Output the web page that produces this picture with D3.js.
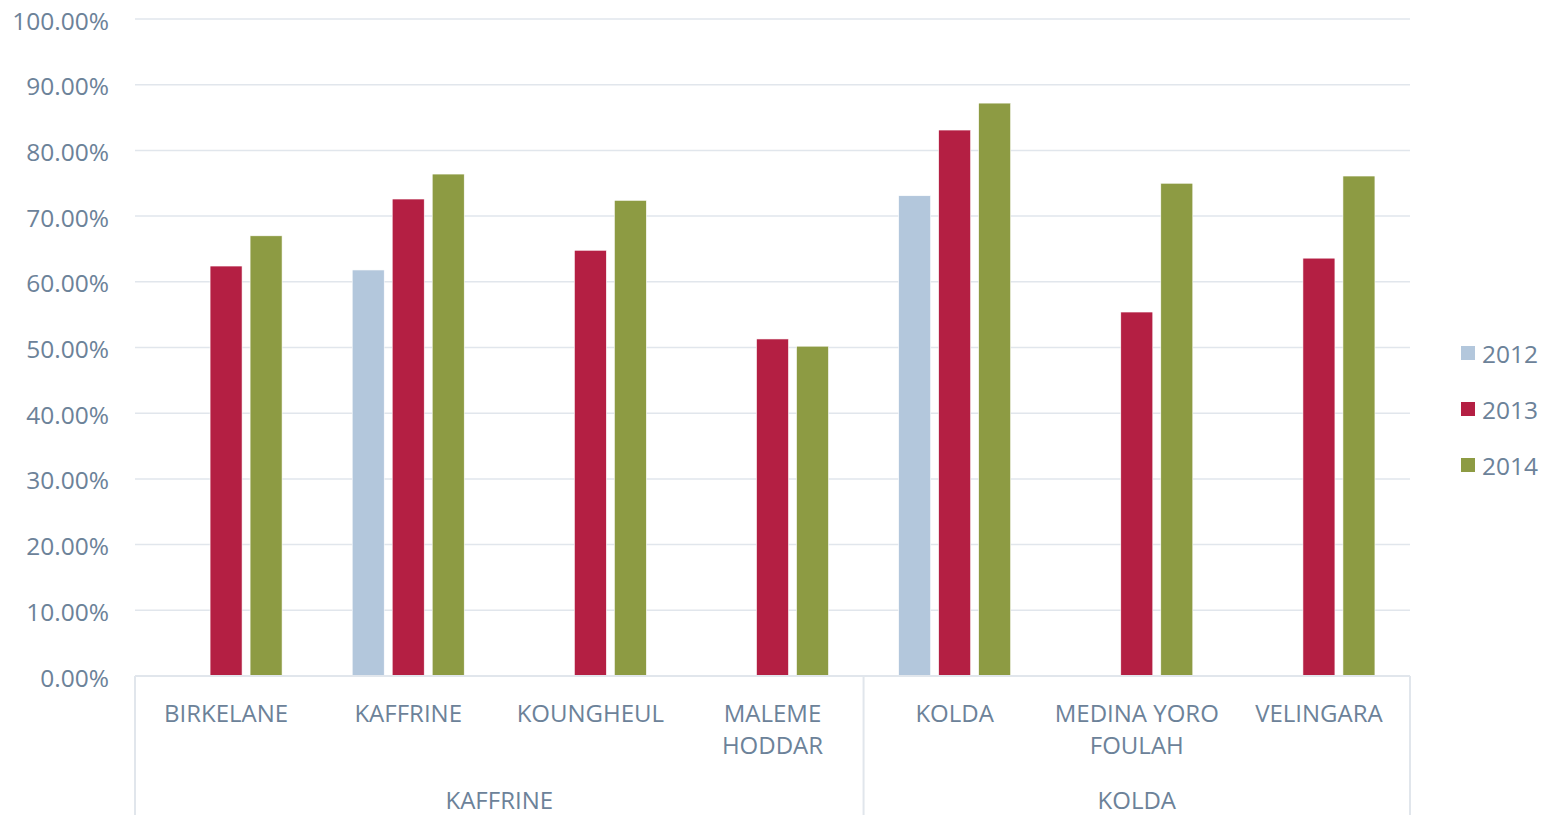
<!DOCTYPE html>
<html>
<head>
<meta charset="utf-8">
<script src="https://cdn.jsdelivr.net/npm/d3@7"></script>
<style>
  html, body { margin: 0; padding: 0; background: #fff; }
  svg { display: block; font-family: "Open Sans", "Noto Sans", sans-serif; }
</style>
</head>
<body>
<svg id="chart" width="1547" height="815"></svg>
<script>
// ---- data ----
const categories = ["BIRKELANE", "KAFFRINE", "KOUNGHEUL", "MALEME HODDAR", "KOLDA", "MEDINA YORO FOULAH", "VELINGARA"];
const categoryLines = [["BIRKELANE"], ["KAFFRINE"], ["KOUNGHEUL"], ["MALEME", "HODDAR"], ["KOLDA"], ["MEDINA YORO", "FOULAH"], ["VELINGARA"]];
const groups = ["KAFFRINE", "KOLDA"];
const groupSizes = [4, 3];
const seriesNames = ["2012", "2013", "2014"];
const values2012 = [null, 0.618, null, null, 0.731, null, null];
const values2013 = [0.624, 0.726, 0.648, 0.513, 0.831, 0.554, 0.636];
const values2014 = [0.670, 0.764, 0.724, 0.502, 0.872, 0.750, 0.761];
const seriesColors = ["#B3C7DC", "#B41F43", "#8D9B43"];
const yTicks = [0, 0.1, 0.2, 0.3, 0.4, 0.5, 0.6, 0.7, 0.8, 0.9, 1.0];

(function () {
const seriesValues = [values2012, values2013, values2014];
const textColor = "#6C8299";
const lineColor = "#E1E6EC";

const svg = d3.select("#chart");
const pL = 135, pR = 1410, pT = 19, pB = 676;

const y = d3.scaleLinear().domain([0, 1]).range([pB, pT]);
const x0 = d3.scaleBand().domain(categories).range([pL, pR]).paddingInner(0.385).paddingOuter(0.1925);
const x1 = d3.scaleBand().domain(seriesNames).range([0, x0.bandwidth()]).paddingInner(0.2);

// gridlines
svg.append("g").selectAll("line").data(yTicks.filter(t => t > 0)).join("line")
  .attr("x1", pL).attr("x2", pR)
  .attr("y1", d => y(d)).attr("y2", d => y(d))
  .attr("stroke", lineColor).attr("stroke-width", 1.5);

// y labels
const fmt = d3.format(".2%");
svg.append("g").selectAll("text").data(yTicks).join("text")
  .attr("x", 109).attr("y", d => y(d) + 4)
  .attr("text-anchor", "end").attr("dominant-baseline", "middle")
  .attr("fill", textColor).attr("font-size", 24.5)
  .text(d => fmt(d));

// bars
const barData = [];
categories.forEach((c, i) => {
  seriesNames.forEach((s, j) => {
    const v = seriesValues[j][i];
    if (v !== null) barData.push({ c, s, v, color: seriesColors[j] });
  });
});
svg.append("g").selectAll("rect").data(barData).join("rect")
  .attr("x", d => x0(d.c) + x1(d.s))
  .attr("width", x1.bandwidth())
  .attr("y", d => y(d.v))
  .attr("height", d => y(0) - y(d.v))
  .attr("fill", d => d.color)
  .attr("stroke", "#fff").attr("stroke-width", 0.6);

// x axis line + separators
svg.append("line").attr("x1", pL).attr("x2", pR).attr("y1", pB).attr("y2", pB)
  .attr("stroke", lineColor).attr("stroke-width", 2);
const sepIdx = [0, groupSizes[0], categories.length];
svg.append("g").selectAll("line").data(sepIdx).join("line")
  .attr("x1", d => pL + d * x0.step()).attr("x2", d => pL + d * x0.step())
  .attr("y1", pB).attr("y2", 815)
  .attr("stroke", lineColor).attr("stroke-width", 2);

// category labels
const catG = svg.append("g");
categories.forEach((c, i) => {
  const cx = x0(c) + x0.bandwidth() / 2;
  const t = catG.append("text").attr("text-anchor", "middle")
    .attr("fill", textColor).attr("font-size", 24);
  categoryLines[i].forEach((ln, k) => {
    t.append("tspan").attr("x", cx).attr("y", 722 + k * 32).text(ln);
  });
});

// group labels
let start = 0;
groups.forEach((g, i) => {
  const x = pL + (start + groupSizes[i] / 2) * x0.step();
  svg.append("text").attr("x", x).attr("y", 809)
    .attr("text-anchor", "middle").attr("fill", textColor).attr("font-size", 24)
    .text(g);
  start += groupSizes[i];
});

// legend
const leg = svg.append("g").selectAll("g").data(seriesNames).join("g")
  .attr("transform", (d, i) => `translate(1461, ${353 + i * 56})`);
leg.append("rect").attr("x", 0).attr("y", -7).attr("width", 14).attr("height", 14)
  .attr("fill", (d, i) => seriesColors[i]);
leg.append("text").attr("x", 21).attr("y", 3).attr("dominant-baseline", "middle")
  .attr("fill", textColor).attr("font-size", 24.5).text(d => d);
})();
</script>
</body>
</html>
